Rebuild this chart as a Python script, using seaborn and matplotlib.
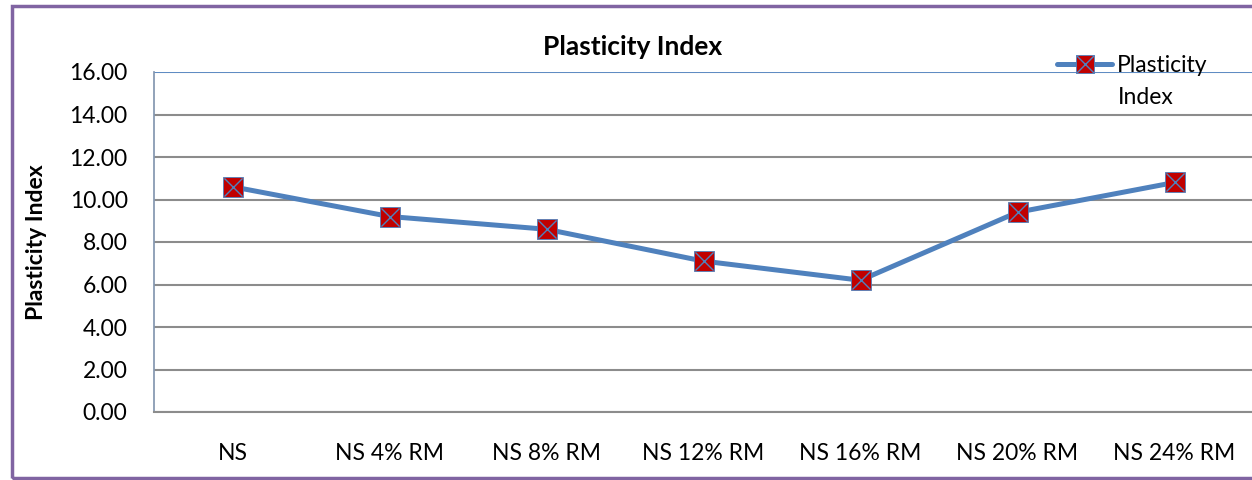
import matplotlib
matplotlib.use("Agg")
import matplotlib.pyplot as plt
from matplotlib.lines import Line2D
from matplotlib.patches import Rectangle
import seaborn as sns
import pandas as pd

categories = ["NS", "NS 4% RM", "NS 8% RM", "NS 12% RM", "NS 16% RM", "NS 20% RM", "NS 24% RM"]
values = [10.6, 9.2, 8.6, 7.1, 6.2, 9.4, 10.8]
yticks = [0, 2, 4, 6, 8, 10, 12, 14, 16]
series_name = "Plasticity Index"

sns.set_theme(style="white")
plt.rcParams['font.family'] = ['Lato', 'DejaVu Sans']
plt.rcParams['text.color'] = 'black'
plt.rcParams['xtick.color'] = 'black'
plt.rcParams['ytick.color'] = 'black'
plt.rcParams['axes.labelcolor'] = 'black'

df = pd.DataFrame({"cat": categories, "val": values})

fig = plt.figure(figsize=(12.52, 4.8), dpi=100)
ax = fig.add_axes([154/1252, 1-412/480, (1253-154)/1252, (412-72)/480])

line_col = "#4F81BD"
sns.lineplot(data=df, x="cat", y="val", ax=ax, color=line_col, linewidth=3.6, sort=False, zorder=3)
sns.scatterplot(data=df, x="cat", y="val", ax=ax, marker="s", s=190, color="#C00000",
                edgecolor=line_col, linewidth=0.6, zorder=4)
sns.scatterplot(data=df, x="cat", y="val", ax=ax, marker="x", s=170, color=line_col,
                linewidth=1.0, zorder=5)

fs = 16.5
ax.set_xlim(-0.5, len(categories) - 0.5)
ax.set_ylim(0, 16)
ax.set_yticks(yticks)
ax.set_yticklabels([f"{v:.2f}" for v in yticks], fontsize=fs)
ax.tick_params(axis="x", labelsize=fs, pad=22, length=0)
ax.tick_params(axis="y", pad=19, length=0)
ax.set_xlabel("")
ax.set_ylabel("Plasticity Index", fontsize=fs, fontweight="bold")
ax.yaxis.set_label_coords(-107/1099, 0.5)

ax.grid(axis="y", color="#8C8C8C", linewidth=1.5)
ax.grid(axis="x", visible=False)
for s in ["top", "right"]:
    ax.spines[s].set_visible(False)
ax.spines["left"].set_color("#8497B0")
ax.spines["bottom"].set_color("#8C8C8C")
ax.spines["bottom"].set_linewidth(1.5)
ax.axhline(16, color="#5B8DC9", linewidth=1.3, zorder=2)

fig.text(633/1252, 1-47/480, "Plasticity Index", ha="center", va="center",
         fontsize=19, fontweight="bold")

h_line = Line2D([], [], color=line_col, linewidth=3.6)
h_sq = Line2D([], [], marker="s", color="#C00000", markersize=12.5, linestyle="none",
              markeredgecolor=line_col, markeredgewidth=0.6)
h_x = Line2D([], [], marker="x", color=line_col, markersize=12.5, linestyle="none", markeredgewidth=1.0)
leg = fig.legend([(h_line, h_sq, h_x)], ["Plasticity"], loc="center left",
                 bbox_to_anchor=(1057/1252, 1-66/480), frameon=False, fontsize=fs,
                 handlelength=2.4, handletextpad=0.2, borderpad=0, borderaxespad=0)
fig.text(1118/1252, 1-97/480, "Index", ha="left", va="center", fontsize=fs)

fig.patches.append(Rectangle((12/1252, 2/480), 1.2, 1-8/480, transform=fig.transFigure,
                             fill=False, edgecolor="#8064A2", linewidth=2.5, zorder=0))

fig.savefig("out.png", dpi=100)
